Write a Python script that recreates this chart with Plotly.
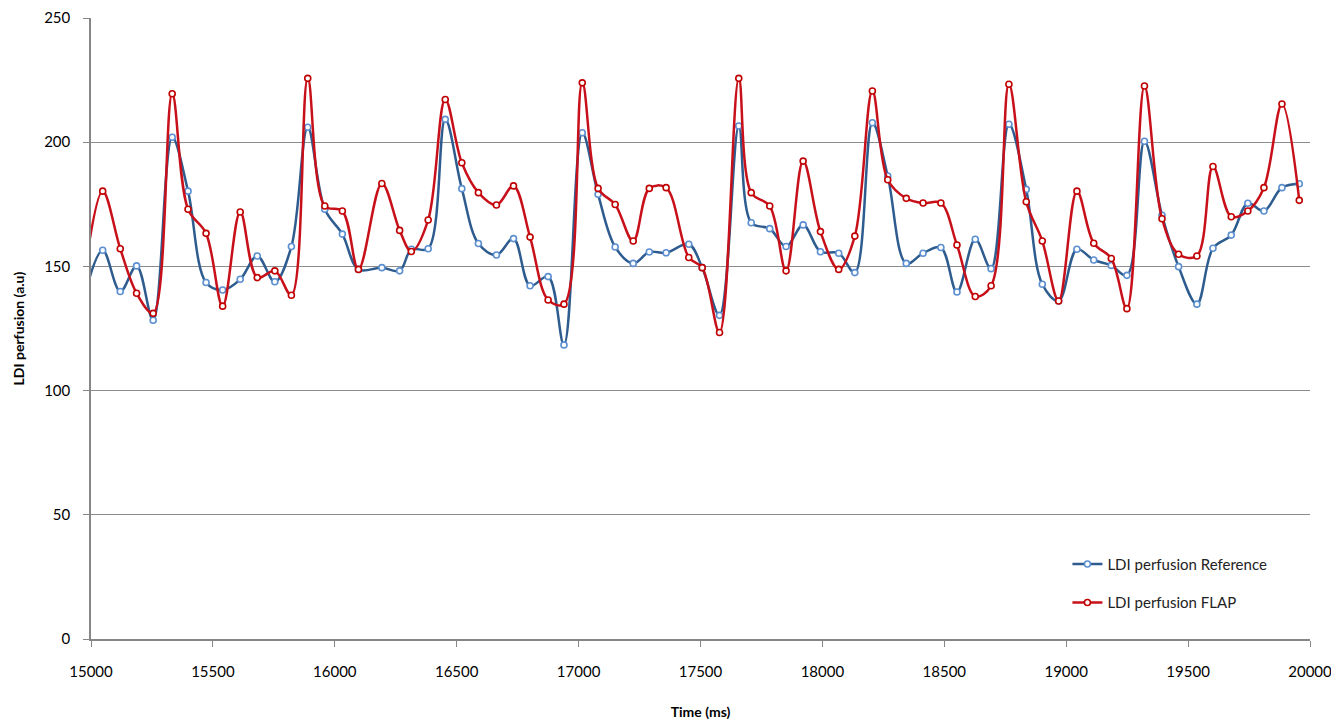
import plotly.graph_objects as go

time_ms = [14978, 15048, 15120, 15187, 15255, 15333, 15398, 15472, 15540, 15612, 15682, 15754,
           15822, 15889, 15959, 16031, 16097, 16193, 16266, 16314, 16383, 16453, 16521,
           16589, 16663, 16733, 16801, 16875, 16940, 17015, 17080, 17150, 17224, 17290,
           17359, 17452, 17507, 17578, 17657, 17708, 17784, 17851, 17921, 17992, 18067,
           18133, 18205, 18268, 18344, 18413, 18486, 18552, 18627, 18692, 18765, 18836,
           18902, 18969, 19044, 19113, 19185, 19249, 19321, 19393, 19461, 19536, 19602,
           19677, 19745, 19811, 19885, 19956]

ldi_reference = [140, 156.5, 139.9, 150.2, 128.3, 202, 180.3, 143.5, 140.5, 144.8, 154.2, 143.8,
                 158, 206, 173, 163, 148.8, 149.5, 148.2, 156.9, 157.1, 209.2, 181.3,
                 159.2, 154.6, 161.2, 142.2, 145.9, 118.4, 203.8, 179, 157.8, 151.2, 155.8,
                 155.5, 158.9, 149.5, 130.3, 206.5, 167.6, 165.2, 158, 166.7, 155.9, 155.3,
                 147.5, 207.8, 186.4, 151.2, 155.3, 157.6, 139.7, 160.9, 149.1, 207.2, 181,
                 142.8, 136.1, 156.9, 152.6, 150.4, 146.4, 200.4, 170.6, 149.9, 134.8, 157.3,
                 162.6, 175.4, 172.3, 181.7, 183.3]

ldi_flap = [150, 180.3, 157.1, 139.2, 131.1, 219.5, 173, 163.3, 134, 171.9, 145.5, 148.2,
            138.4, 225.7, 174.3, 172.3, 148.8, 183.4, 164.5, 156, 168.7, 217.2, 191.7,
            179.7, 174.7, 182.4, 161.8, 136.5, 134.8, 223.9, 181.4, 174.9, 160.2, 181.4,
            181.7, 153.6, 149.5, 123.4, 225.7, 179.7, 174.3, 148.2, 192.4, 164, 148.8,
            162.2, 220.6, 184.9, 177.4, 175.5, 175.5, 158.6, 137.9, 142.2, 223.3, 176,
            160.2, 136.1, 180.3, 159.3, 153.2, 133, 222.6, 169.2, 154.9, 154.2, 190.2,
            170, 172.3, 181.7, 215.4, 176.6]

x_ticks = [15000, 15500, 16000, 16500, 17000, 17500, 18000, 18500, 19000, 19500, 20000]
y_ticks = [0, 50, 100, 150, 200, 250]

FONT = "Lato, 'Open Sans', sans-serif"

fig = go.Figure()
fig.add_trace(go.Scatter(
    x=time_ms, y=ldi_reference, name="LDI perfusion Reference",
    mode="lines+markers", line=dict(color="#2E5C8F", width=2.5, shape="spline", smoothing=1.0),
    marker=dict(symbol="circle", size=6, color="white", line=dict(color="#5B8FD0", width=1.6)),
    legendgroup="a",
))
fig.add_trace(go.Scatter(
    x=time_ms, y=ldi_flap, name="LDI perfusion FLAP",
    mode="lines+markers", line=dict(color="#C8101A", width=2.5, shape="spline", smoothing=1.0),
    marker=dict(symbol="circle", size=6, color="white", line=dict(color="#C00000", width=1.6)),
    legendgroup="b",
))

fig.update_layout(
    width=1331, height=712,
    margin=dict(l=83, r=29, t=10, b=81, autoexpand=False),
    paper_bgcolor="white", plot_bgcolor="white",
    font=dict(family=FONT, size=14, color="#000000"),
    showlegend=True,
    legend=dict(x=0.801, y=0.147, xanchor="left", yanchor="top",
                font=dict(family=FONT, size=15, color="#222222"),
                bgcolor="rgba(0,0,0,0)", tracegroupgap=16, traceorder="grouped"),
    xaxis=dict(range=[15000, 20000], tickvals=x_ticks, ticktext=[str(v) for v in x_ticks],
               automargin=False, ticklabelstandoff=12, ticklabeloverflow="allow",
               showgrid=False, zeroline=False, showline=True, linecolor="#868686", linewidth=1.5,
               ticks="outside", ticklen=6, tickcolor="#868686",
               title=dict(text="<b>Time (ms)</b>", font=dict(family=FONT, size=14), standoff=31),
               tickfont=dict(family=FONT, size=15)),
    yaxis=dict(range=[0, 250], tickvals=y_ticks, showgrid=True, gridcolor="#8C8C8C", gridwidth=1.2,
               automargin=False, ticklabelstandoff=10,
               zeroline=False, showline=True, linecolor="#868686", linewidth=1.5,
               ticks="outside", ticklen=6, tickcolor="#868686",
               tickfont=dict(family=FONT, size=15)),
    annotations=[dict(text="<b>LDI perfusion (a.u)</b>", xref="paper", yref="paper",
                      x=-(91 - 18) / 1219, y=0.5, xanchor="center", yanchor="middle",
                      textangle=-90, showarrow=False, font=dict(family=FONT, size=14))],
)

fig.write_html("out.html")
